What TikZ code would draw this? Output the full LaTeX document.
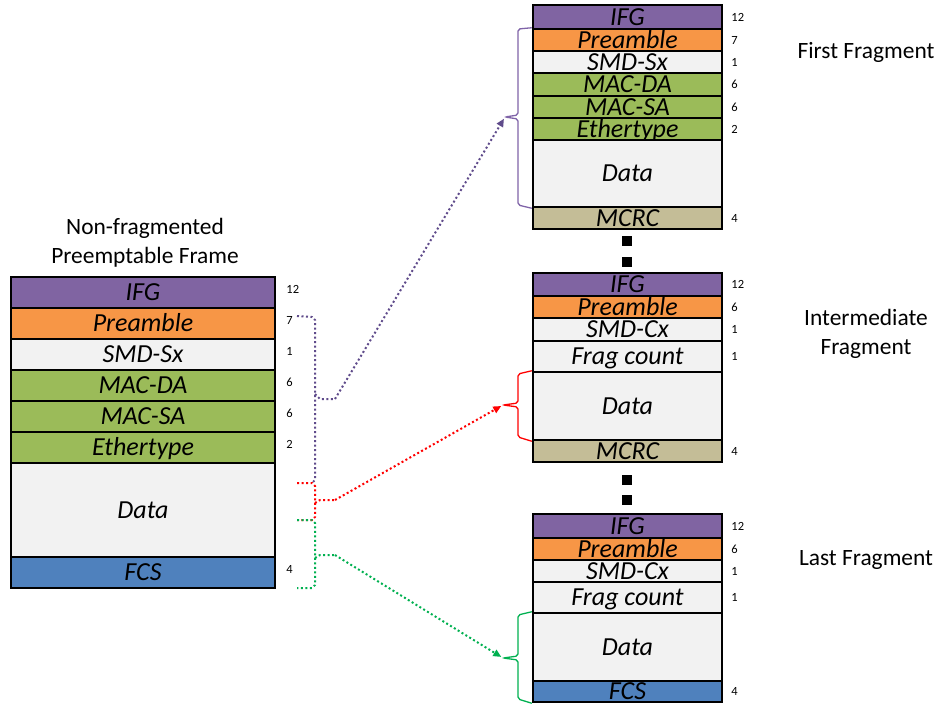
\documentclass[tikz,border=0pt]{standalone}
\usepackage{fontspec}
\setmainfont{Carlito}
\usetikzlibrary{arrows.meta,positioning,calc}
\definecolor{FPurple}{HTML}{8064A2}
\definecolor{FOrange}{HTML}{F79646}
\definecolor{FGreen}{HTML}{9BBB59}
\definecolor{FGrey}{HTML}{F2F2F2}
\definecolor{FBlue}{HTML}{4F81BD}
\definecolor{FTan}{HTML}{C4BD97}
\definecolor{DPurple}{HTML}{5F4B8B}
\definecolor{BPurple}{HTML}{7F63A8}
\definecolor{DRed}{HTML}{FF0000}
\definecolor{DGreen}{HTML}{00B050}
\tikzset{
  field/.style={draw=black,line width=2.5pt,inner sep=0pt,
    font=\fontsize{26}{26}\selectfont\itshape,text height=16.6pt,text depth=0pt},
  lfield/.style={field,minimum width=264pt},
  rfield/.style={field,minimum width=189pt},
  num/.style={font=\fontsize{12.5}{12.5}\selectfont,anchor=west,inner sep=0pt},
  caption/.style={font=\fontsize{23.4}{28.5}\selectfont,align=center},
  dotline/.style={line width=2pt,dash pattern=on 2pt off 2.5pt},
  sbrace/.style={line width=1.3pt,rounded corners=2pt},
  tip/.style={-{Triangle[length=8pt,width=7pt]},shorten >=2pt},
  gap/.style={fill=black,minimum size=10pt,inner sep=0pt}
}
\newcommand{\frow}[6]{% style, name, colour, top, bottom, text
  \node[#1,fill=#3,minimum height={(#5-#4)*1pt}] (#2) at (\fx,{(#4+#5)/2}) {#6};}

\begin{document}
\begin{tikzpicture}[x=1pt,y=-1pt]
  \useasboundingbox (0,0) rectangle (939,704);
  % non-fragmented frame
  \node[caption] (nf-cap) at (145,243) {Non-fragmented\\Preemptable Frame};
  \def\fx{143}
  \frow{lfield}{nf-ifg}{FPurple}{277}{308}{IFG}
  \frow{lfield}{nf-pre}{FOrange}{308}{339}{Preamble}
  \frow{lfield}{nf-smd}{FGrey}{339}{370}{SMD-Sx}
  \frow{lfield}{nf-da}{FGreen}{370}{401}{MAC-DA}
  \frow{lfield}{nf-sa}{FGreen}{401}{432}{MAC-SA}
  \frow{lfield}{nf-eth}{FGreen}{432}{463}{Ethertype}
  \frow{lfield}{nf-data}{FGrey}{463}{557}{Data}
  \frow{lfield}{nf-fcs}{FBlue}{557}{588}{FCS}
  \foreach \r/\v in {ifg/12,pre/7,smd/1,da/6,sa/6,eth/2,fcs/4}
    \node[num,right=10pt of nf-\r.east,yshift=3pt] (nf-n\r) {\v};

  % first fragment
  \node[caption] (ff-cap) at (866,52) {First Fragment};
  \def\fx{627.5}
  \frow{rfield}{ff-ifg}{FPurple}{5}{29}{IFG}
  \frow{rfield}{ff-pre}{FOrange}{29}{51}{Preamble}
  \frow{rfield}{ff-smd}{FGrey}{51}{73}{SMD-Sx}
  \frow{rfield}{ff-da}{FGreen}{73}{96}{MAC-DA}
  \frow{rfield}{ff-sa}{FGreen}{96}{118}{MAC-SA}
  \frow{rfield}{ff-eth}{FGreen}{118}{140}{Ethertype}
  \frow{rfield}{ff-data}{FGrey}{140}{207}{Data}
  \frow{rfield}{ff-mcrc}{FTan}{207}{229}{MCRC}
  \foreach \r/\v in {ifg/12,pre/7,smd/1,da/6,sa/6,eth/2,mcrc/4}
    \node[num,right=8pt of ff-\r.east] (ff-n\r) {\v};

  \node[gap] (gap1) at (627,241) {};
  \node[gap] (gap2) at (627,262) {};

  % intermediate fragment
  \node[caption] (if-cap) at (866,334) {Intermediate\\Fragment};
  \frow{rfield}{if-ifg}{FPurple}{273}{296}{IFG}
  \frow{rfield}{if-pre}{FOrange}{296}{318}{Preamble}
  \frow{rfield}{if-smd}{FGrey}{318}{341}{SMD-Cx}
  \frow{rfield}{if-frag}{FGrey}{341}{372}{Frag count}
  \frow{rfield}{if-data}{FGrey}{372}{440}{Data}
  \frow{rfield}{if-mcrc}{FTan}{440}{462}{MCRC}
  \foreach \r/\v in {ifg/12,pre/6,smd/1,frag/1,mcrc/4}
    \node[num,right=8pt of if-\r.east] (if-n\r) {\v};

  \node[gap] (gap3) at (627,479.5) {};
  \node[gap] (gap4) at (627,500) {};

  % last fragment
  \node[caption] (lf-cap) at (866,560) {Last Fragment};
  \frow{rfield}{lf-ifg}{FPurple}{514}{538}{IFG}
  \frow{rfield}{lf-pre}{FOrange}{538}{560}{Preamble}
  \frow{rfield}{lf-smd}{FGrey}{560}{582}{SMD-Cx}
  \frow{rfield}{lf-frag}{FGrey}{582}{613}{Frag count}
  \frow{rfield}{lf-data}{FGrey}{613}{681}{Data}
  \frow{rfield}{lf-fcs}{FBlue}{681}{702}{FCS}
  \foreach \r/\v in {ifg/12,pre/6,smd/1,frag/1,fcs/4}
    \node[num,right=8pt of lf-\r.east] (lf-n\r) {\v};

  % braces on the fragments
  \coordinate (ff-tip) at (505,117);
  \coordinate (if-tip) at (503,405);
  \coordinate (lf-tip) at (503,658);
  \draw[sbrace,BPurple] (ff-pre.north west) -- (518,29) -- (518,115) -- (ff-tip)
    -- (518,119) -- (518,205) -- (ff-data.south west);
  \draw[sbrace,DRed] (if-data.north west) -- (518,374) -- (518,403) -- (if-tip)
    -- (518,407) -- (518,437) -- (if-data.south west);
  \draw[sbrace,DGreen] (lf-data.north west) -- (518,615) -- (518,656) -- (lf-tip)
    -- (518,660) -- (518,699) -- (lf-fcs.south west);

  % dotted braces on the frame
  \coordinate (nf-ptip) at (335,399);
  \coordinate (nf-rtip) at (335,500);
  \coordinate (nf-gtip) at (335,555);
  \draw[dotline,DPurple] (297,316) -- (312,317) -- (315,320) -- (315,480) -- (312,483);
  \draw[dotline,DPurple] (315,394) -- (320,399) -- (nf-ptip);
  \draw[dotline,DRed] (297,483) -- (312,483) -- (315,486) -- (315,517) -- (312,520) -- (297,520);
  \draw[dotline,DRed] (315,503) -- (320,500) -- (nf-rtip);
  \draw[dotline,DGreen] (297,520) -- (312,520) -- (315,523) -- (315,585) -- (312,588) -- (297,588);
  \draw[dotline,DGreen] (315,558) -- (320,555) -- (nf-gtip);

  % arrows
  \draw[dotline,DPurple,tip] (nf-ptip) -- (ff-tip);
  \draw[dotline,DRed,tip] (nf-rtip) -- (if-tip);
  \draw[dotline,DGreen,tip] (nf-gtip) -- (lf-tip);
\end{tikzpicture}
\end{document}
